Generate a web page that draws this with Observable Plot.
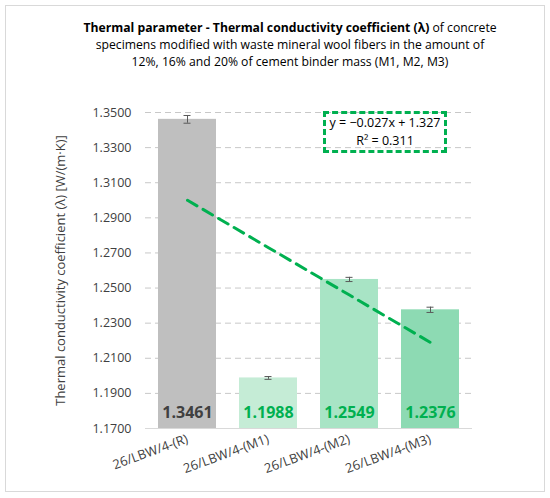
<!DOCTYPE html>
<html>
<head>
<meta charset="utf-8">
<script src="https://cdn.jsdelivr.net/npm/d3@7"></script>
<script src="https://cdn.jsdelivr.net/npm/@observablehq/plot@0.6"></script>
<style>
  html, body { margin: 0; padding: 0; background: #fff; }
  #wrap { position: relative; width: 550px; height: 498px; font-family: "Open Sans", sans-serif; }
  #frame { position: absolute; left: 5px; top: 5px; width: 538px; height: 485px; border: 1px solid #d9d9d9; pointer-events: none; }
  #title { position: absolute; left: 70px; width: 440px; top: 19px; text-align: center; font-size: 12.2px; line-height: 17px; color: #000; }
  #eq { position: absolute; left: 323px; top: 111px; width: 118px; height: 36px; border: 3px dashed #00b050; text-align: center; font-size: 12.5px; line-height: 18px; color: #000; }
  #chart { position: absolute; left: 0; top: 0; }
</style>
</head>
<body>
<div id="wrap">
  <div id="chart"></div>
  <div id="frame"></div>
  <div id="title"><b>Thermal parameter - Thermal conductivity coefficient (λ)</b> of concrete<br>specimens modified with waste mineral wool fibers in the amount of<br>12%, 16% and 20% of cement binder mass (M1, M2, M3)</div>
  <div id="eq">y = −0.027x + 1.327<br>R² = 0.311</div>
</div>
<script>
const categories = ["26/LBW/4-(R)", "26/LBW/4-(M1)", "26/LBW/4-(M2)", "26/LBW/4-(M3)"];
const values = [1.3461, 1.1988, 1.2549, 1.2376];
const errors = [0.0022, 0.0008, 0.0012, 0.0015];
const barColors = ["#bfbfbf", "#c5ecd6", "#a8e4c5", "#8ddab3"];
const labelColors = ["#404040", "#00b050", "#00b050", "#00b050"];
const yTicks = [1.17, 1.19, 1.21, 1.23, 1.25, 1.27, 1.29, 1.31, 1.33, 1.35];
const trendSlope = -0.027;
const trendIntercept = 1.327;

const data = categories.map((c, i) => ({
  cat: c, value: values[i], err: errors[i], fill: barColors[i], label: labelColors[i],
  trend: trendSlope * (i + 1) + trendIntercept, base: yTicks[0]
}));

const chart = Plot.plot({
  width: 550,
  height: 498,
  marginTop: 112,
  marginBottom: 70,
  marginLeft: 145,
  marginRight: 78,
  style: { fontFamily: "Open Sans, sans-serif", fontSize: "12px", background: "transparent", overflow: "visible" },
  x: { domain: categories, paddingInner: 0.29, paddingOuter: 0.145, label: null },
  y: { domain: [1.17, 1.35], ticks: yTicks, tickFormat: d3.format(".4f"), label: null },
  marks: [
    Plot.gridY(yTicks.slice(1), { stroke: "#c8c8c8", strokeOpacity: 1, strokeDasharray: "6,4", strokeWidth: 1 }),
    Plot.barY(data, { x: "cat", y1: "base", y2: "value", fill: "fill" }),
    Plot.ruleY([yTicks[0]], { stroke: "#d9d9d9", strokeWidth: 1 }),
    Plot.ruleX(data, { x: "cat", y1: d => d.value - d.err, y2: d => d.value + d.err, stroke: "#595959", strokeWidth: 1 }),
    Plot.tickY(data, { x: "cat", y: d => d.value - d.err, stroke: "#595959", insetLeft: 25.5, insetRight: 25.5, strokeWidth: 1 }),
    Plot.tickY(data, { x: "cat", y: d => d.value + d.err, stroke: "#595959", insetLeft: 25.5, insetRight: 25.5, strokeWidth: 1 }),
    Plot.line(data, { x: "cat", y: "trend", stroke: "#00b050", strokeWidth: 3, strokeDasharray: "11,7" }),
    Plot.text(data, { x: "cat", y: "base", text: d => d.value.toFixed(4), fill: "label", dy: -16, fontSize: 16, fontWeight: "bold", lineAnchor: "middle" }),
    Plot.axisY({ ticks: yTicks, tickFormat: d3.format(".4f"), tickSize: 0, tickPadding: 14, fontSize: 12.5, fill: "#404040",
      label: "Thermal conductivity coefficient (λ) [W/(m·K)]", labelAnchor: "center", labelArrow: "none", labelOffset: 90 }),
    Plot.axisX({ tickSize: 0, tickRotate: -20, tickPadding: 10, fontSize: 13, fill: "#404040", label: null })
  ]
});
chart.querySelectorAll("text").forEach(t => { if (t.textContent.startsWith("Thermal")) t.setAttribute("font-size", "13"); });
document.getElementById("chart").appendChild(chart);
</script>
</body>
</html>
